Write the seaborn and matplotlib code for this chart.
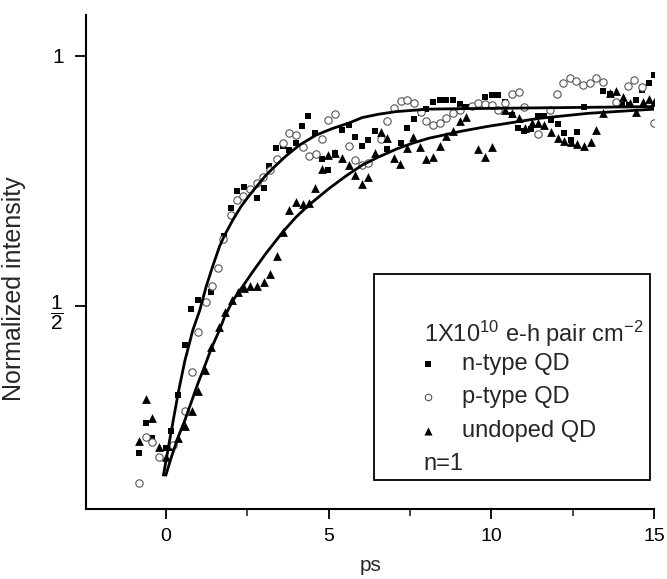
import numpy as np
import pandas as pd
import matplotlib
matplotlib.use("Agg")
import matplotlib.pyplot as plt
import seaborn as sns
from matplotlib.patches import Rectangle
from matplotlib.ticker import FixedLocator, NullLocator

# n-type QD (filled squares)
n_t = [-0.82, -0.62, -0.42, -0.01, 0.17, 0.17, 0.38, 0.58, 0.78, 0.99, 1.40, 1.80, 1.99, 2.18,
       2.39, 2.79, 3.00, 3.18, 3.39, 3.59, 3.79, 4.00, 4.18, 4.38, 4.59, 4.79, 4.99, 5.20, 5.40,
       5.61, 5.81, 6.02, 6.22, 6.42, 6.80, 7.21, 7.41, 7.61, 7.82, 8.00, 8.20, 8.41, 8.61, 8.82,
       9.02, 9.23, 9.81, 10.01, 10.21, 10.42, 10.62, 10.80, 11.01, 11.21, 11.42, 11.62, 11.83,
       12.03, 12.23, 12.44, 12.64, 12.84, 13.43, 13.63, 14.02, 14.22, 14.43, 14.63, 14.83, 15.0]
n_v = [0.333, 0.362, 0.347, 0.337, 0.337, 0.354, 0.391, 0.449, 0.496, 0.508, 0.520, 0.608, 0.656,
       0.688, 0.695, 0.674, 0.694, 0.737, 0.774, 0.780, 0.771, 0.785, 0.824, 0.847, 0.808, 0.751,
       0.729, 0.765, 0.814, 0.826, 0.799, 0.780, 0.792, 0.813, 0.772, 0.786, 0.820, 0.839, 0.853,
       0.863, 0.880, 0.885, 0.885, 0.884, 0.875, 0.868, 0.892, 0.898, 0.897, 0.881, 0.849, 0.818,
       0.813, 0.816, 0.847, 0.847, 0.837, 0.828, 0.807, 0.792, 0.811, 0.869, 0.908, 0.899, 0.873,
       0.873, 0.884, 0.910, 0.929, 0.949]

# p-type QD (open circles)
p_t = [-0.82, -0.62, -0.42, -0.21, 0.22, 0.58, 0.79, 0.99, 1.22, 1.43, 1.60, 1.77, 1.99, 2.18,
       2.36, 2.59, 2.79, 2.98, 3.20, 3.40, 3.59, 3.79, 4.00, 4.20, 4.40, 4.61, 4.81, 4.99, 5.20,
       5.61, 5.81, 6.02, 6.22, 6.60, 6.80, 7.00, 7.21, 7.41, 7.61, 7.82, 8.00, 8.20, 8.41, 8.61,
       8.82, 9.02, 9.40, 9.60, 9.81, 10.01, 10.21, 10.42, 10.62, 10.83, 11.01, 11.42, 11.80, 12.02,
       12.20, 12.41, 12.61, 12.81, 13.02, 13.22, 13.43, 13.83, 14.19, 14.39, 14.62, 15.0]
p_v = [0.306, 0.348, 0.343, 0.329, 0.340, 0.374, 0.416, 0.465, 0.505, 0.528, 0.556, 0.602, 0.644,
       0.671, 0.678, 0.691, 0.704, 0.716, 0.729, 0.752, 0.786, 0.808, 0.803, 0.778, 0.758, 0.762,
       0.794, 0.837, 0.851, 0.779, 0.749, 0.739, 0.744, 0.794, 0.834, 0.866, 0.883, 0.885, 0.877,
       0.857, 0.836, 0.826, 0.831, 0.843, 0.853, 0.861, 0.871, 0.877, 0.875, 0.873, 0.861, 0.877,
       0.900, 0.904, 0.868, 0.805, 0.861, 0.899, 0.927, 0.940, 0.934, 0.923, 0.927, 0.941, 0.931,
       0.879, 0.920, 0.936, 0.918, 0.830]

# undoped QD (filled triangles)
u_t = [-0.82, -0.62, -0.42, -0.21, -0.01, 0.38, 0.58, 0.79, 0.99, 1.19, 1.40, 1.62, 1.83, 2.03,
       2.21, 2.39, 2.59, 2.79, 3.00, 3.20, 3.40, 3.59, 3.77, 4.00, 4.20, 4.40, 4.59, 4.81, 4.99,
       5.20, 5.40, 5.61, 5.81, 6.02, 6.22, 6.42, 6.60, 6.80, 7.00, 7.18, 7.41, 7.59, 7.80, 8.00,
       8.20, 8.41, 8.61, 8.82, 9.02, 9.23, 9.60, 9.81, 10.01, 10.42, 10.62, 10.83, 11.03, 11.23,
       11.44, 11.62, 11.83, 12.03, 12.23, 12.44, 12.64, 12.84, 13.05, 13.22, 13.43, 13.63, 13.83,
       14.04, 14.24, 14.44, 14.65, 14.85, 15.0]
u_v = [0.344, 0.387, 0.367, 0.338, 0.329, 0.347, 0.359, 0.374, 0.395, 0.419, 0.447, 0.472, 0.492,
       0.508, 0.520, 0.525, 0.528, 0.528, 0.534, 0.546, 0.574, 0.614, 0.653, 0.668, 0.663, 0.665,
       0.693, 0.732, 0.760, 0.764, 0.753, 0.739, 0.719, 0.701, 0.716, 0.764, 0.811, 0.796, 0.753,
       0.741, 0.774, 0.799, 0.778, 0.751, 0.755, 0.779, 0.801, 0.813, 0.834, 0.845, 0.773, 0.755,
       0.776, 0.861, 0.853, 0.841, 0.818, 0.830, 0.830, 0.826, 0.811, 0.796, 0.791, 0.788, 0.783,
       0.779, 0.788, 0.814, 0.853, 0.902, 0.908, 0.892, 0.877, 0.855, 0.879, 0.887, 0.881]

# fitted curves
fast_t = [-0.08, 0.17, 0.38, 0.58, 0.83, 1.04, 1.24, 1.45, 1.65, 1.80, 2.06, 2.31, 2.57, 2.82,
          3.08, 3.39, 3.69, 4.10, 4.61, 5.12, 5.61, 6.03, 6.54, 7.06, 8.07, 9.09, 10.19, 15.0]
fast_v = [0.312, 0.354, 0.393, 0.429, 0.468, 0.494, 0.528, 0.560, 0.590, 0.608, 0.635, 0.659,
          0.680, 0.699, 0.719, 0.739, 0.758, 0.781, 0.803, 0.818, 0.830, 0.843, 0.851, 0.857,
          0.863, 0.864, 0.865, 0.869]
slow_t = [-0.01, 0.17, 0.38, 0.58, 0.79, 0.99, 1.19, 1.40, 1.65, 1.80, 2.06, 2.36, 2.67, 3.08,
          3.59, 4.00, 4.40, 5.02, 5.53, 6.03, 6.54, 7.06, 7.56, 8.07, 9.09, 9.91, 11.44, 12.97,
          15.0]
slow_v = [0.312, 0.329, 0.348, 0.364, 0.384, 0.404, 0.423, 0.445, 0.468, 0.485, 0.508, 0.528,
          0.550, 0.579, 0.614, 0.640, 0.662, 0.693, 0.717, 0.739, 0.756, 0.772, 0.785, 0.796,
          0.812, 0.823, 0.841, 0.853, 0.863]

sns.set_theme(style="ticks")
plt.rcParams["font.family"] = ["Liberation Sans", "DejaVu Sans"]
plt.rcParams["mathtext.fontset"] = "custom"
plt.rcParams["mathtext.rm"] = "Liberation Sans"
plt.rcParams["mathtext.it"] = "Liberation Sans:italic"
plt.rcParams["mathtext.bf"] = "Liberation Sans:bold"

fig = plt.figure(figsize=(6.67, 5.79), dpi=100)
ax = fig.add_axes([0.129, 0.121, 0.852, 0.853])

sns.scatterplot(x=n_t, y=n_v, marker="s", color="black", s=24, linewidth=0, ax=ax)
sns.scatterplot(x=p_t, y=p_v, marker="o", facecolor="white", edgecolor="#555555", s=28,
                linewidth=0.8, ax=ax)
sns.scatterplot(x=u_t, y=u_v, marker="^", color="black", s=40, linewidth=0, ax=ax)
sns.lineplot(x=fast_t, y=fast_v, color="black", linewidth=2.0, sort=False, ax=ax,
             solid_joinstyle="round", solid_capstyle="butt")
sns.lineplot(x=slow_t, y=slow_v, color="black", linewidth=2.0, sort=False, ax=ax,
             solid_joinstyle="round", solid_capstyle="butt")

ax.set_yscale("log", base=2)
ax.set_xlim(-2.45, 15.0)
ax.set_ylim(0.285, 1.12)
ax.yaxis.set_major_locator(FixedLocator([0.5, 1.0]))
ax.yaxis.set_minor_locator(NullLocator())
ax.set_yticklabels([r"$\dfrac{1}{2}$", "1"])
ax.set_xticks([0, 5, 10, 15])
ax.set_xticklabels(["0", "5", "10", "15"])
ax.xaxis.set_minor_locator(FixedLocator([2.5, 7.5, 12.5]))

sns.despine(ax=ax)
for s in ["left", "bottom"]:
    ax.spines[s].set_linewidth(1.5)
    ax.spines[s].set_color("black")
ax.tick_params(axis="x", which="major", direction="out", length=7, width=1.3,
               labelsize=14, colors="black", pad=7)
ax.tick_params(axis="x", which="minor", direction="out", length=5, width=1.2)
ax.tick_params(axis="y", which="major", direction="out", length=8, width=1.3,
               labelsize=15, colors="black", pad=8)

ax.set_xlabel("ps", fontsize=15, labelpad=8)
ax.set_ylabel("Normalized intensity", fontsize=18)
ax.yaxis.set_label_coords(-0.105, 0.445)

# legend box drawn by hand
ax.add_patch(Rectangle((0.506, 0.059), 0.487, 0.417, transform=ax.transAxes,
                       facecolor="white", edgecolor="black", linewidth=1.3, zorder=5))
ax.text(0.594, 0.355, r"1X10$^{10}$ e-h pair cm$^{-2}$", transform=ax.transAxes,
        fontsize=17, va="center", ha="left", zorder=6)
labels = ["n-type QD", "p-type QD", "undoped QD"]
ys = [0.293, 0.227, 0.158]
ax.scatter([0.602], [ys[0]], marker="s", color="black", s=24, linewidth=0,
           transform=ax.transAxes, zorder=6)
ax.scatter([0.602], [ys[1]], marker="o", facecolor="white", edgecolor="#555555", s=22,
           linewidth=0.8, transform=ax.transAxes, zorder=6)
ax.scatter([0.602], [ys[2]], marker="^", color="black", s=34, linewidth=0,
           transform=ax.transAxes, zorder=6)
for lab, yy in zip(labels, ys):
    ax.text(0.662, yy, lab, transform=ax.transAxes, fontsize=17, va="center", ha="left", zorder=6)
ax.text(0.594, 0.091, "n=1", transform=ax.transAxes, fontsize=17, va="center", ha="left",
        zorder=6)

fig.savefig("out.png", dpi=100)
